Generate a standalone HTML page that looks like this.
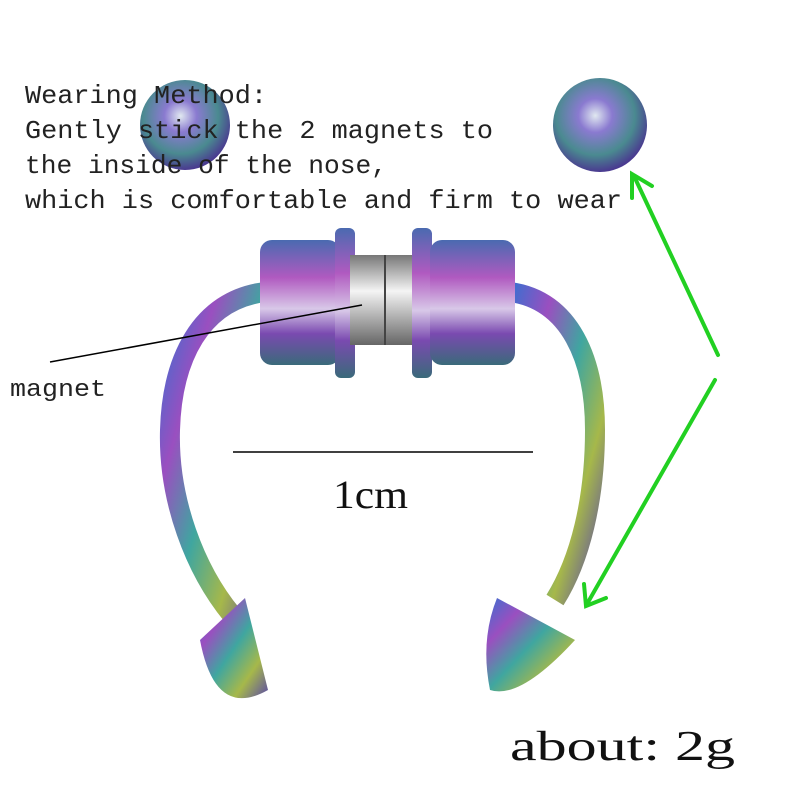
<!DOCTYPE html>
<html><head><meta charset="utf-8"><style>
body{margin:0;background:#fff;}
svg{display:block}
</style></head><body>
<svg width="800" height="800" viewBox="0 0 800 800" xmlns="http://www.w3.org/2000/svg">
<defs>
<linearGradient id="rb" x1="0" y1="0" x2="1" y2="1">
<stop offset="0" stop-color="#3a6fd0"/><stop offset="0.25" stop-color="#9a4fc0"/>
<stop offset="0.5" stop-color="#3fa6a0"/><stop offset="0.75" stop-color="#a6b84a"/>
<stop offset="1" stop-color="#5a4aa8"/></linearGradient>
<linearGradient id="rv" x1="0" y1="0" x2="0" y2="1">
<stop offset="0" stop-color="#4a6ab0"/><stop offset="0.3" stop-color="#b05ac0"/>
<stop offset="0.55" stop-color="#d8c8e8"/><stop offset="0.75" stop-color="#7a4ab0"/>
<stop offset="1" stop-color="#3a6a7a"/></linearGradient>
<linearGradient id="mg" x1="0" y1="0" x2="0" y2="1">
<stop offset="0" stop-color="#777"/><stop offset="0.4" stop-color="#f4f4f4"/><stop offset="1" stop-color="#666"/></linearGradient>
<radialGradient id="ball" cx="0.45" cy="0.4" r="0.6">
<stop offset="0" stop-color="#e0e8f0"/><stop offset="0.3" stop-color="#8a7ad0"/>
<stop offset="0.7" stop-color="#4a8a90"/><stop offset="1" stop-color="#4a3a90"/></radialGradient>
</defs>
<circle cx="185" cy="125" r="45" fill="url(#ball)"/>
<circle cx="600" cy="125" r="47" fill="url(#ball)"/>
<path d="M265 292 C200 300 172 360 170 430 C168 500 195 570 232 615" stroke="url(#rb)" stroke-width="20" fill="none"/>
<path d="M510 292 C570 300 595 360 595 430 C595 500 580 560 555 600" stroke="url(#rb)" stroke-width="20" fill="none"/>
<path d="M245,598 L200,640 Q215,720 268,690 Z" fill="url(#rb)"/>
<path d="M497,598 L575,640 Q520,700 490,690 Q480,640 497,598 Z" fill="url(#rb)"/>
<rect x="260" y="240" width="80" height="125" rx="12" fill="url(#rv)"/>
<rect x="335" y="228" width="20" height="150" rx="6" fill="url(#rv)"/>
<rect x="350" y="255" width="70" height="90" fill="url(#mg)"/>
<line x1="385" y1="255" x2="385" y2="345" stroke="#444" stroke-width="2"/>
<rect x="412" y="228" width="20" height="150" rx="6" fill="url(#rv)"/>
<rect x="430" y="240" width="85" height="125" rx="12" fill="url(#rv)"/>
<g font-family="Liberation Mono, monospace" font-size="26" fill="#222">
<text x="25" y="103" textLength="242" lengthAdjust="spacingAndGlyphs">Wearing Method:</text>
<text x="25" y="138" textLength="468" lengthAdjust="spacingAndGlyphs">Gently stick the 2 magnets to</text>
<text x="25" y="173" textLength="362" lengthAdjust="spacingAndGlyphs">the inside of the nose,</text>
<text x="25" y="208" textLength="597" lengthAdjust="spacingAndGlyphs">which is comfortable and firm to wear</text>
<text x="10" y="396" font-size="24" textLength="96" lengthAdjust="spacingAndGlyphs">magnet</text>
</g>
<line x1="50" y1="362" x2="362" y2="305" stroke="#000" stroke-width="1.5"/>
<line x1="233" y1="452" x2="533" y2="452" stroke="#000" stroke-width="1.5"/>
<text x="333" y="508" font-family="Liberation Serif, serif" font-size="40" fill="#111" textLength="75" lengthAdjust="spacingAndGlyphs">1cm</text>
<text x="510" y="760" font-family="Liberation Serif, serif" font-size="42" fill="#111" textLength="225" lengthAdjust="spacingAndGlyphs">about: 2g</text>
<g stroke="#22d022" stroke-width="4" fill="none" stroke-linecap="round">
<line x1="718" y1="355" x2="634" y2="176"/>
<polyline points="632,198 632,174 652,186"/>
<line x1="715" y1="380" x2="587" y2="604"/>
<polyline points="584,584 586,606 606,598"/>
</g>
</svg>
</body></html>
